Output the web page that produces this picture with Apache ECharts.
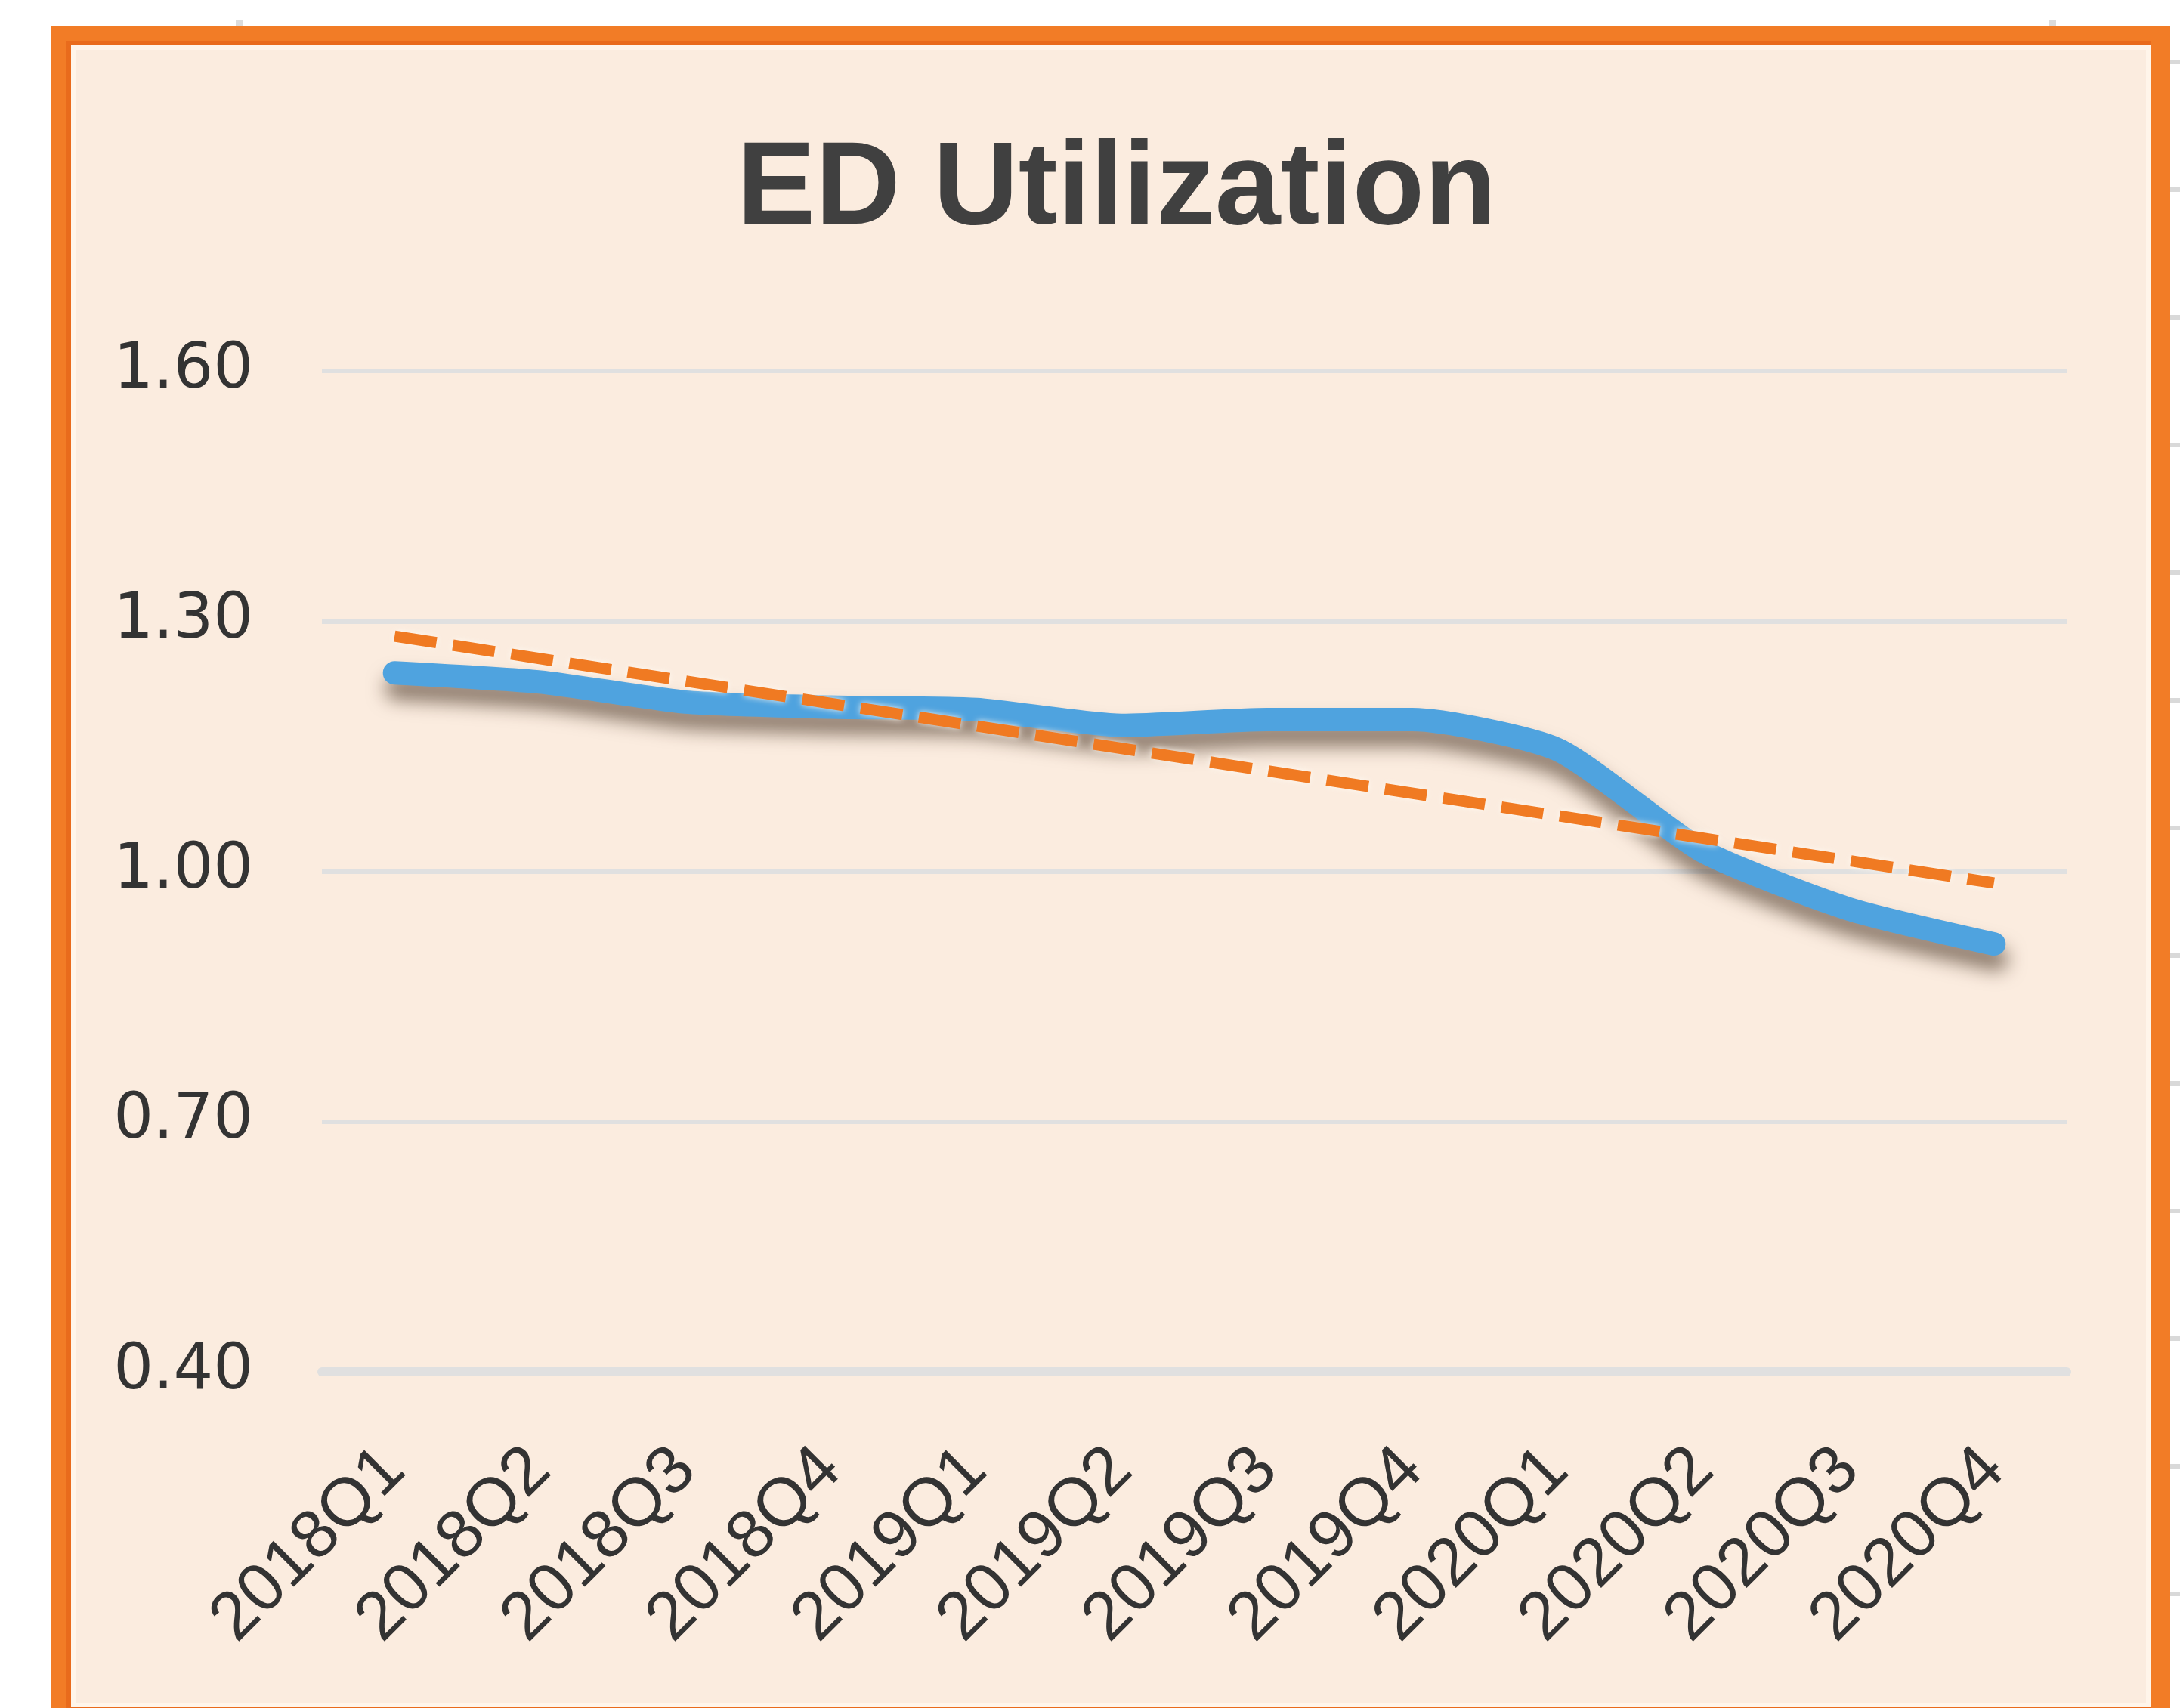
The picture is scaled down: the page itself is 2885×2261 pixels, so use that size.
<!DOCTYPE html>
<html>
<head>
<meta charset="utf-8">
<title>ED Utilization</title>
<script src="https://cdn.jsdelivr.net/npm/echarts@6/dist/echarts.min.js"></script>
<style>
  html, body { margin: 0; padding: 0; background: #ffffff; }
  #chart { width: 2885px; height: 2261px; }
</style>
</head>
<body>
<div id="chart"></div>
<script>
const quarters = ["2018Q1", "2018Q2", "2018Q3", "2018Q4", "2019Q1", "2019Q2",
  "2019Q3", "2019Q4", "2020Q1", "2020Q2", "2020Q3", "2020Q4"];
const edUtilization = [1.238, 1.227, 1.203, 1.197, 1.194, 1.175,
  1.182, 1.182, 1.146, 1.024, 0.955, 0.913];
// linear trendline, only its two ends
const trendLine = [1.282, null, null, null, null, null,
  null, null, null, null, null, 0.986];
const yTicks = [0.4, 0.7, 1.0, 1.3, 1.6];

let myChart = echarts.init(document.getElementById("chart"));

// frame around the chart (orange border, peach fill)
let frame = [
  {
    type: "rect", z: -10,
    shape: { x: 81, y: 47, width: 2778, height: 2226 },
    style: { fill: "#FBECDF", stroke: "#F27C26", lineWidth: 26 },
  },
  {
    type: "rect", z: -9,
    shape: { x: 91, y: 57, width: 2752, height: 2206 },
    style: { fill: null, stroke: "#E96B1C", lineWidth: 6 },
  },
  {
    type: "rect", z: -9,
    shape: { x: 97, y: 63, width: 2746, height: 2194 },
    style: { fill: null, stroke: "#FFF5EA", lineWidth: 6 },
  },
  { type: "rect", z: -9, shape: { x: 312, y: 27, width: 9, height: 7 }, style: { fill: "#DCDCDC" } },
  { type: "rect", z: -9, shape: { x: 2712, y: 27, width: 9, height: 7 }, style: { fill: "#DCDCDC" } },
];
for (let y = 82; y < 2261; y += 169) {
  frame.push({ type: "rect", z: -9, shape: { x: 2872, y: y - 3, width: 13, height: 6 }, style: { fill: "#D9D9D9" } });
}

let option = {
  backgroundColor: "#ffffff",
  animation: false,
  graphic: frame,
  title: {
    text: "ED Utilization",
    left: 970,
    top: 170,
    textStyle: {
      fontFamily: "Liberation Sans",
      fontWeight: "bold",
      fontSize: 156,
      color: "#404040",
    },
  },
  grid: {
    left: 426,
    right: 150,
    top: 491,
    bottom: 445,
  },
  xAxis: {
    type: "category",
    data: quarters,
    boundaryGap: true,
    axisLine: {
      lineStyle: { color: "#E0E0E0", width: 12 },
    },
    axisTick: { show: false },
    axisLabel: {
      rotate: 45,
      margin: 116,
      interval: 0,
      fontFamily: "Liberation Sans",
      fontSize: 90,
      color: "#333333",
    },
  },
  yAxis: {
    type: "value",
    min: yTicks[0],
    max: yTicks[yTicks.length - 1],
    interval: 0.3,
    axisLine: { show: false },
    axisTick: { show: false },
    splitLine: {
      lineStyle: { color: "#E0E0E0", width: 6 },
    },
    axisLabel: {
      margin: 91,
      fontFamily: "DejaVu Sans",
      fontSize: 83,
      color: "#333333",
      formatter: function (value) {
        return value.toFixed(2);
      },
    },
  },
  series: [
    {
      name: "ED Utilization",
      type: "line",
      data: edUtilization,
      smooth: 0.2,
      symbol: "none",
      z: 3,
      lineStyle: {
        color: "#4FA3DF",
        width: 31,
        cap: "round",
        join: "round",
        shadowColor: "rgba(45, 25, 10, 0.55)",
        shadowBlur: 24,
        shadowOffsetX: 3,
        shadowOffsetY: 20,
      },
    },
    {
      name: "Linear trend",
      type: "line",
      data: trendLine,
      connectNulls: true,
      symbol: "none",
      z: 4,
      lineStyle: {
        color: "#F07A22",
        width: 15,
        type: [56, 22],
        cap: "butt",
        shadowColor: "rgba(255, 250, 242, 0.9)",
        shadowBlur: 8,
      },
    },
  ],
};
myChart.setOption(option);
</script>
</body>
</html>
